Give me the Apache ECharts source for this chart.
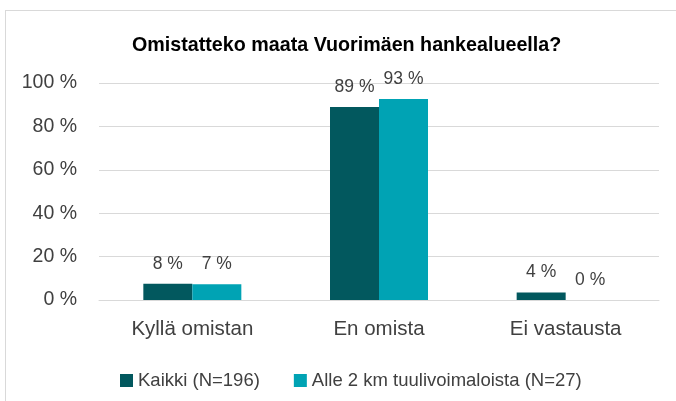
<!DOCTYPE html>
<html>
<head>
<meta charset="utf-8">
<script src="https://cdn.jsdelivr.net/npm/echarts@6/dist/echarts.min.js"></script>
<style>
    body { margin: 0; background: #ffffff; }
    #frame { position: absolute; left: 5px; top: 10px; width: 700px; height: 420px; border: 1px solid #d9d9d9; }
    #main { position: absolute; left: 0; top: 0; width: 676px; height: 401px; }
</style>
</head>
<body>
<div id="frame"></div>
<div id="main"></div>
<script>
    var categories = ['Kyllä omistan', 'En omista', 'Ei vastausta'];
    var kaikki = [7.5, 88.9, 3.5];
    var alle2km = [7.3, 92.6, 0];
    var seriesNames = ['Kaikki (N=196)', 'Alle 2 km tuulivoimaloista (N=27)'];
    var yTicks = [0, 20, 40, 60, 80, 100];

    var font = 'Liberation Sans';
    var textColor = '#404040';

    var chart = echarts.init(document.getElementById('main'));
    var labelOpt = {
        show: true,
        position: 'top',
        distance: 11,
        color: textColor,
        fontFamily: font,
        fontSize: 17.5,
        formatter: function (p) { return Math.round(p.value) + ' %'; }
    };
    chart.setOption({
        animation: false,
        title: {
            text: 'Omistatteko maata Vuorimäen hankealueella?',
            left: 127,
            top: 31,
            textStyle: { fontFamily: font, fontSize: 19.7, fontWeight: 'bold', color: '#000000' }
        },
        legend: {
            top: 366,
            left: 115,
            itemWidth: 13,
            itemHeight: 13,
            itemGap: 34,
            icon: 'rect',
            textStyle: { fontFamily: font, fontSize: 18.5, color: textColor },
            data: seriesNames
        },
        grid: { left: 99, right: 17, top: 83, bottom: 101 },
        xAxis: {
            type: 'category',
            data: categories,
            axisLine: { lineStyle: { color: '#d9d9d9', width: 1 } },
            axisTick: { show: false },
            axisLabel: { color: textColor, fontFamily: font, fontSize: 20.5, margin: 19 }
        },
        yAxis: {
            type: 'value',
            min: yTicks[0],
            max: yTicks[yTicks.length - 1],
            interval: 20,
            axisLine: { show: false },
            axisTick: { show: false },
            splitLine: { lineStyle: { color: '#d9d9d9', width: 1 } },
            axisLabel: { color: textColor, fontFamily: font, fontSize: 19.5, margin: 22, formatter: '{value} %' }
        },
        series: [
            {
                name: seriesNames[0],
                type: 'bar',
                data: kaikki,
                barGap: '0%',
                barCategoryGap: '47.5%',
                itemStyle: { color: '#02585e' },
                label: labelOpt
            },
            {
                name: seriesNames[1],
                type: 'bar',
                data: alle2km,
                itemStyle: { color: '#00a3b4' },
                label: labelOpt
            }
        ]
    });
</script>
</body>
</html>
